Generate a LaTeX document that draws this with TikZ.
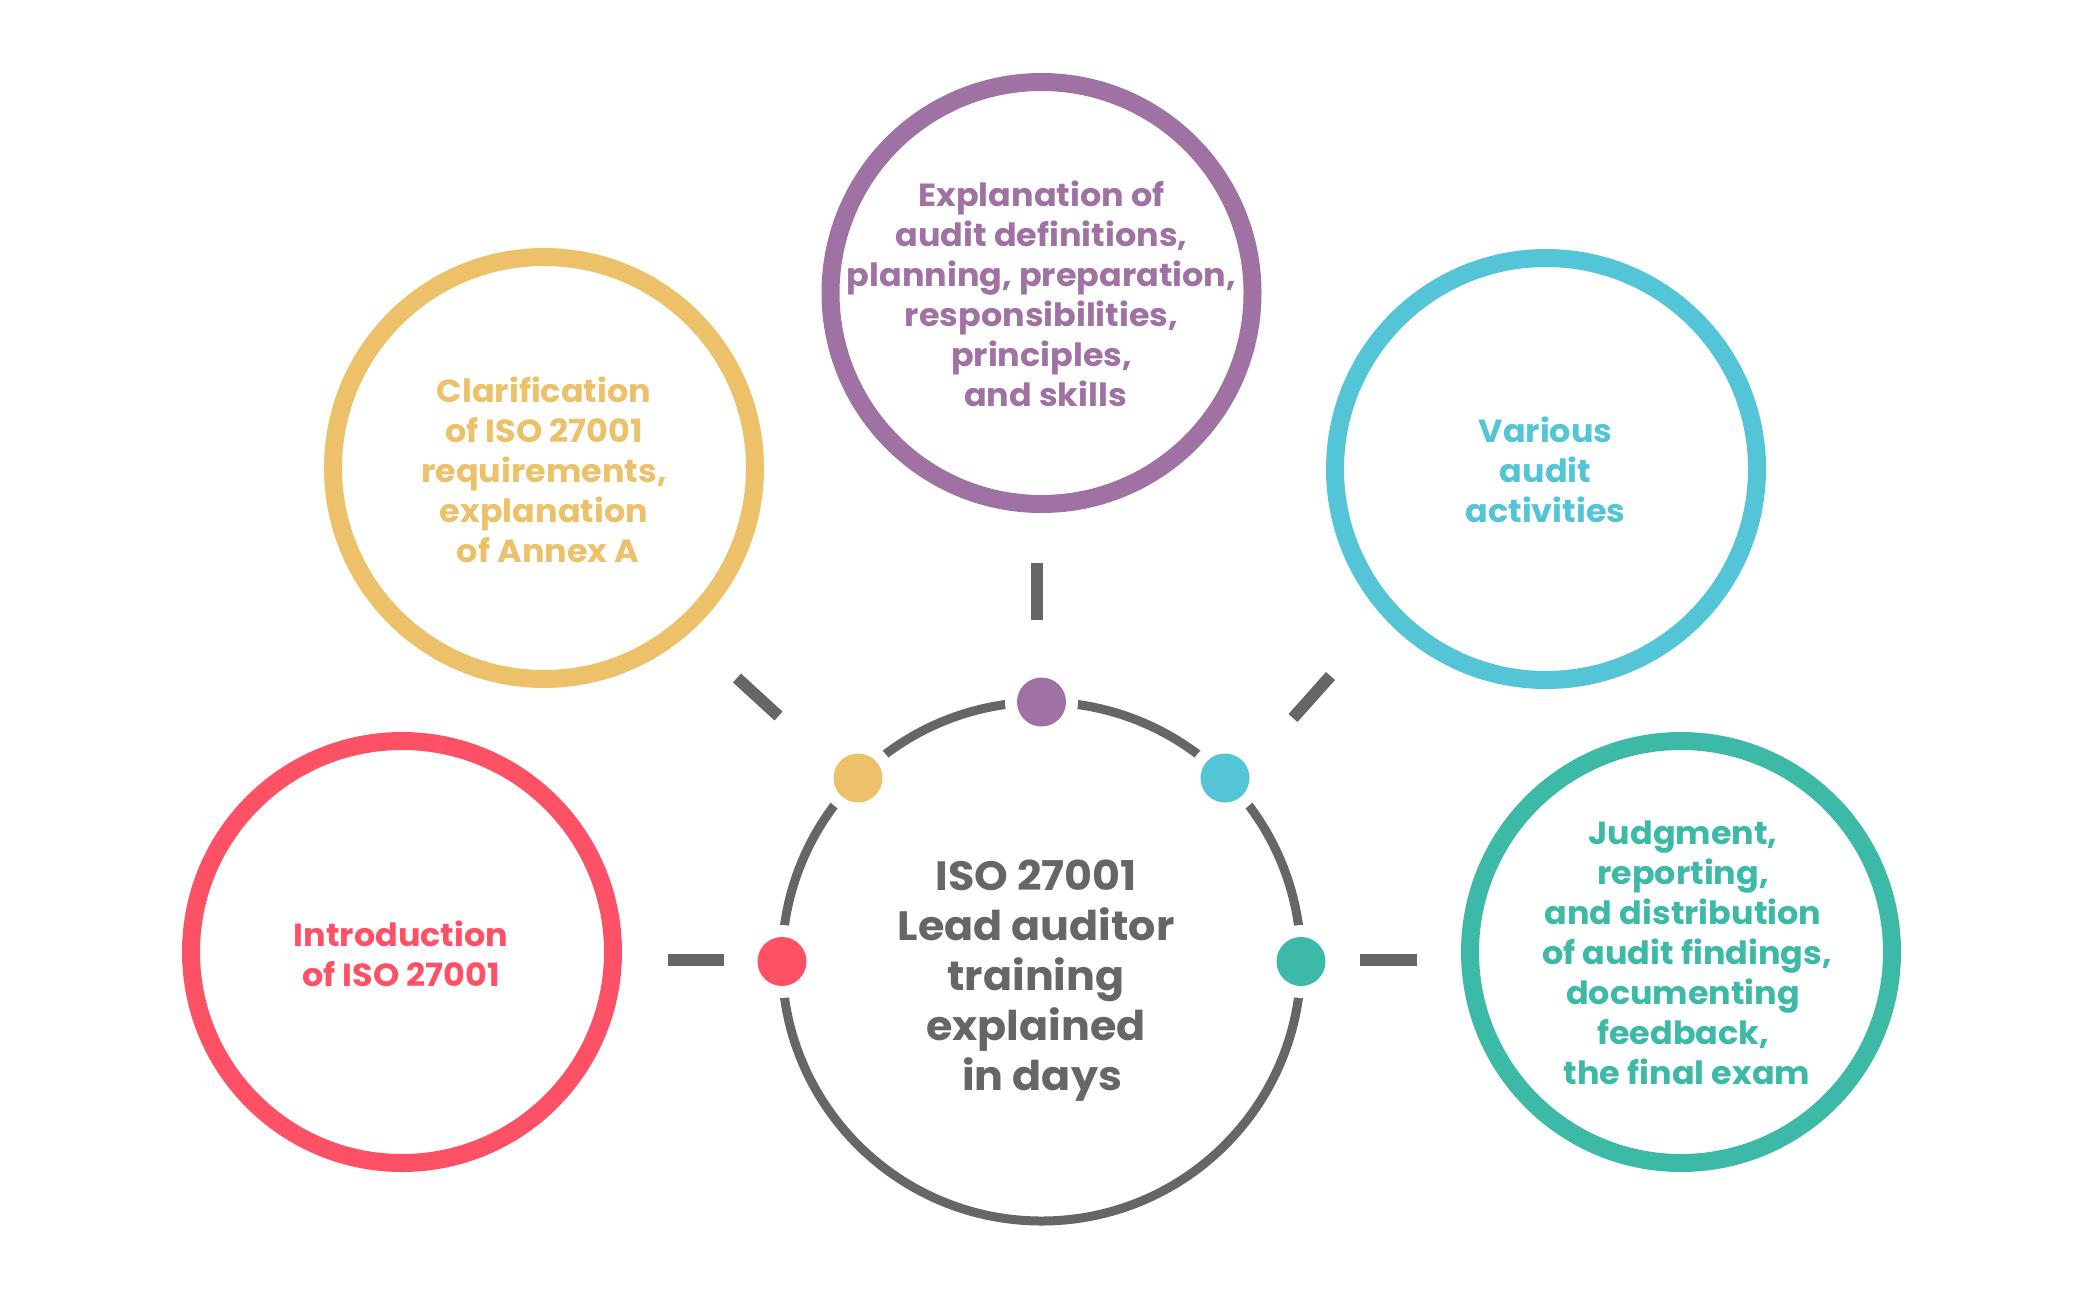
\documentclass[tikz,border=0pt]{standalone}
\usepackage{fontspec}
\setmainfont{Poppins}[FakeStretch=1.045]
\definecolor{cred}{RGB}{255,81,102}
\definecolor{cyel}{RGB}{236,193,106}
\definecolor{cpur}{RGB}{160,114,163}
\definecolor{ccya}{RGB}{84,197,214}
\definecolor{cgrn}{RGB}{60,185,167}
\definecolor{cgry}{RGB}{102,102,102}
\begin{document}
\begin{tikzpicture}[x=1pt,y=-1pt,
  ring/.style={circle, draw=#1, line width=18pt, minimum size=422pt, inner sep=0pt, outer sep=0pt},
  lbl/.style={text=#1, font=\bfseries\fontsize{32}{40}\selectfont, align=center, inner sep=0pt},
  hubring/.style={circle, draw=cgry, line width=9pt, minimum size=519pt, inner sep=0pt, outer sep=0pt},
  dotnode/.style={circle, fill=#1, minimum size=49pt, inner sep=0pt, outer sep=0pt,
    preaction={draw=white, fill=white, line width=24pt}},
  spoke/.style={draw=cgry, line width=12pt}]
\useasboundingbox[fill=white] (0,0) rectangle (2084,1309);

% outer rings
\node[ring=cred] (red) at (402,952) {};
\node[ring=cyel] (yel) at (544,468) {};
\node[ring=cpur] (pur) at (1041.5,293) {};
\node[ring=ccya] (cya) at (1546,469) {};
\node[ring=cgrn] (grn) at (1681,952) {};

% labels
\node[lbl=cred] (redt) at (401,953.5) {Introduction\\of ISO 27001};
\node[lbl=cyel] (yelt) at (544,469.5) {Clarification\\of ISO 27001\\requirements,\\explanation\\\hspace*{.25em}of Annex A};
\node[lbl=cpur] (purt) at (1041.5,294) {Explanation of\\audit definitions,\\planning, preparation,\\responsibilities,\\principles,\\\hspace*{.25em}and skills};
\node[lbl=ccya] (cyat) at (1545.5,470) {Various\\audit\\activities};
\node[lbl=cgrn] (grnt) at (1683,952.5) {Judgment,\\reporting,\\and distribution\\\hspace*{.25em}of audit findings,\\documenting\\feedback,\\\hspace*{.25em}the final exam};

% hub
\node[hubring] (hub) at (1041.5,961.5) {};
\node[text=cgry, font=\bfseries\fontsize{41}{50}\selectfont, align=center, inner sep=0pt] (hubt) at (1036,981)
  {ISO 27001\\Lead auditor\\training\\explained\\\hspace*{.3em}in days};

% dots on hub
\node[dotnode=cred] (dr) at (hub.180) {};
\node[dotnode=cyel] (dy) at (hub.135) {};
\node[dotnode=cpur] (dp) at (hub.90) {};
\node[dotnode=ccya] (dc) at (hub.45) {};
\node[dotnode=cgrn] (dg) at (hub.0) {};

% spokes
\coordinate (r1) at (668,960);   \coordinate (r2) at (724,960);
\coordinate (y1) at (737,678);   \coordinate (y2) at (778.5,716);
\coordinate (p1) at (1036.5,563); \coordinate (p2) at (1036.5,620);
\coordinate (c1) at (1330.5,676); \coordinate (c2) at (1293,718);
\coordinate (g1) at (1360,960);  \coordinate (g2) at (1417,960);
\draw[spoke] (r1) -- (r2);
\draw[spoke] (y1) -- (y2);
\draw[spoke] (p1) -- (p2);
\draw[spoke] (c1) -- (c2);
\draw[spoke] (g1) -- (g2);
\end{tikzpicture}
\end{document}
